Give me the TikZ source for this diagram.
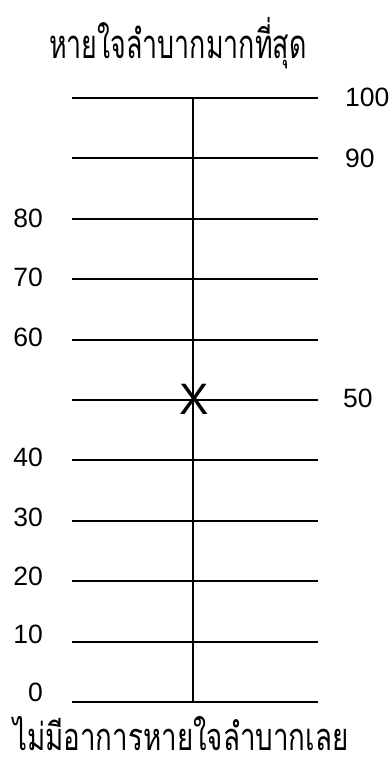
\documentclass[tikz,border=0pt]{standalone}
\usepackage{fontspec}
\setmainfont{Liberation Sans}
\newfontfamily\thaitop[Script=Thai,FakeStretch=0.67]{Loma}
\newfontfamily\thaibot[Script=Thai,FakeStretch=0.73]{Loma}

\begin{document}
\begin{tikzpicture}[x=1pt, y=-1pt,
    rung/.style={line width=1.8pt},
    numlab/.style={font=\fontsize{26.5}{30}\selectfont, inner sep=0pt},
    thailab/.style={inner sep=0pt, anchor=base west},
    cross/.style={font=\fontsize{44}{46}\selectfont, inner sep=0pt}
  ]
  \useasboundingbox (0,0) rectangle (390,762);
  % scale rungs
  \foreach \v/\y in {100/98,90/158,80/219,70/279,60/340,50/400,40/460,30/521,20/581,10/642,0/702}
  {
    \coordinate (l\v) at (72,\y);
    \coordinate (r\v) at (318,\y);
    \draw[rung] (l\v) -- (r\v);
  }
  \coordinate (axtop) at (193,98);
  \coordinate (axbot) at (193,702);
  \draw[rung] (axtop) -- (axbot);
  % numbers
  \node[numlab, anchor=west] (n100) at (345,97) {100};
  \node[numlab, anchor=west] (n90) at (345,158) {90};
  \node[numlab, anchor=west] (n50) at (343,398) {50};
  \foreach \v/\y in {80/218,70/277,60/337,40/457,30/517,20/576,10/634,0/692}
    \node[numlab, anchor=east] (n\v) at (43,\y) {\v};
  % mark
  \node[cross] (mark) at (194,399) {X};
  % end texts
  \node[thailab, font=\thaitop\fontsize{40}{44}\selectfont] (toptext) at (49,59) {หายใจลำบากมากที่สุด};
  \node[thailab, font=\thaibot\fontsize{38}{42}\selectfont] (bottext) at (13,750) {ไม่มีอาการหายใจลำบากเลย};
\end{tikzpicture}
\end{document}
